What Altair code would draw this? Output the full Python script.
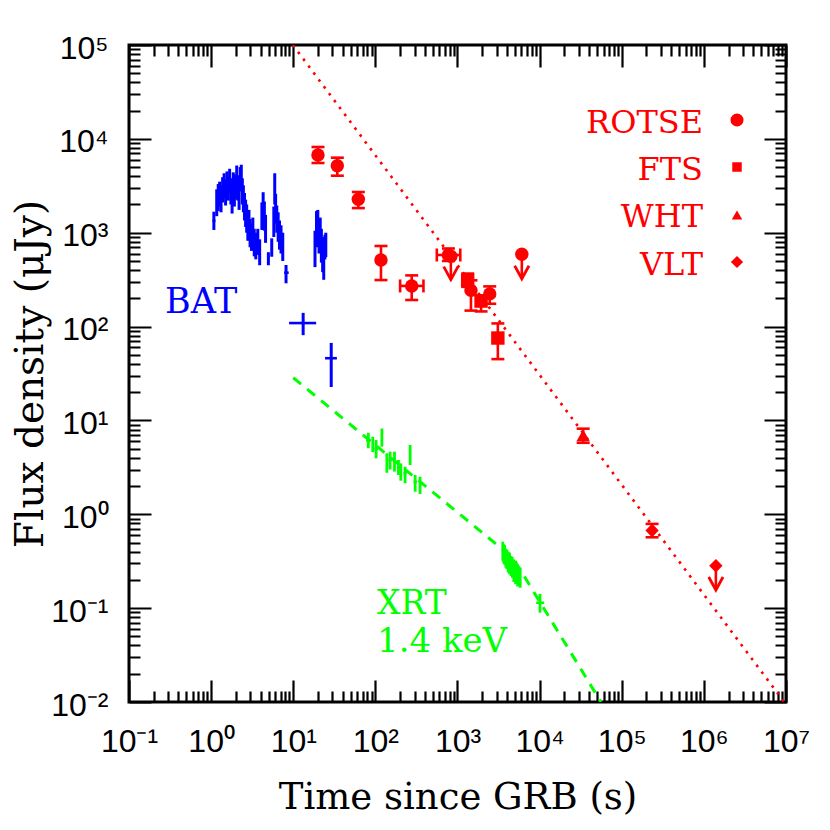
import altair as alt
import pandas as pd

# ---------------- data ----------------
# BAT (blue)
bat_t = [1.08, 1.17, 1.22, 1.27, 1.32, 1.38, 1.44, 1.50, 1.56, 1.62, 1.68, 1.74, 1.80, 1.86, 1.92,
         1.98, 2.05, 2.12, 2.19, 2.26, 2.33, 2.40, 2.47, 2.55, 2.63, 2.71, 2.80, 2.89, 2.98, 3.10,
         3.22, 3.35, 3.50, 3.70, 3.90, 4.15, 4.30, 4.45, 4.60, 4.98, 5.47, 5.80, 5.95, 6.10, 6.30,
         6.55, 6.80, 7.10, 7.45, 8.17, 13.2, 18.4, 19.2, 19.9, 20.6, 21.3, 22.0, 22.8, 23.5, 24.3,
         24.9, 29.0]
bat_f = [1340, 2100, 2400, 2600, 2300, 2900, 3200, 2700, 3400, 3000, 3600, 2800, 2200, 3300, 2600,
         3100, 3900, 3000, 2400, 3700, 4000, 2800, 2300, 1900, 1600, 1400, 1150, 1250, 1000, 900,
         1050, 780, 720, 800, 620, 1500, 1900, 1500, 1100, 533, 700, 1300, 2900, 1800, 1400,
         1150, 950, 850, 700, 375, 109, 700, 1100, 1250, 900, 1000, 750, 600, 500, 700,
         750, 46]
bat_lo = [1070, 1500, 1700, 1900, 1650, 2100, 2350, 1950, 2500, 2200, 2650, 2000, 1600, 2400, 1900,
          2250, 2900, 2200, 1750, 2750, 3000, 2000, 1650, 1350, 1150, 1000, 820, 880, 700, 640,
          750, 560, 520, 580, 450, 1070, 1350, 1050, 780, 450, 555, 900, 2000, 1250, 1000,
          800, 660, 600, 500, 289, 81, 430, 700, 850, 600, 650, 480, 380, 315, 520,
          550, 22.7]
bat_hi = [1675, 2900, 3300, 3500, 3200, 3900, 4300, 3700, 4500, 4000, 4800, 3800, 3000, 4400, 3500,
          4200, 5200, 4100, 3300, 5000, 5300, 3800, 3200, 2650, 2250, 2000, 1600, 1750, 1400, 1250,
          1450, 1100, 1000, 1100, 850, 2100, 2700, 2150, 1550, 620, 871, 1900, 4300, 2600, 1950,
          1650, 1350, 1200, 1000, 453, 140, 1050, 1700, 1750, 1300, 1450, 1100, 900, 750, 950,
          1000, 67]
# BAT points with visible time bins
batx_f = [1340, 533, 375, 109, 46]
batx_tlo = [1.04, 4.85, 7.75, 8.9, 24.4]
batx_thi = [1.13, 5.10, 8.80, 19.0, 34.0]

# XRT (green)
xrt_t = [82, 93, 102, 120, 138, 151, 171, 191, 204, 230, 265, 305, 350,
         3560, 3650, 3750, 3870, 4000, 4150, 4300, 4480, 4650, 4850, 5100, 5400, 5800, 10100]
xrt_f = [6.1, 5.6, 5.0, 6.6, 3.55, 3.8, 3.63, 3.16, 2.84, 2.74, 4.29, 2.22, 2.05,
         0.40, 0.38, 0.37, 0.34, 0.33, 0.31, 0.30, 0.28, 0.27, 0.25, 0.24, 0.22, 0.21, 0.114]
xrt_lo = [5.05, 4.6, 3.95, 5.25, 2.77, 3.0, 2.85, 2.62, 2.28, 2.14, 3.35, 1.74, 1.64,
          0.32, 0.30, 0.29, 0.27, 0.26, 0.24, 0.23, 0.22, 0.21, 0.19, 0.18, 0.17, 0.165, 0.0895]
xrt_hi = [7.4, 6.7, 6.2, 8.2, 4.47, 4.65, 4.65, 3.79, 3.49, 3.21, 5.47, 2.62, 2.51,
          0.51, 0.48, 0.47, 0.43, 0.42, 0.40, 0.39, 0.36, 0.35, 0.33, 0.32, 0.29, 0.27, 0.142]
xrtx_f = [6.1, 5.0, 3.8, 3.16, 2.74, 2.22, 0.114]
xrtx_tlo = [77, 97, 144, 183, 220, 292, 9080]
xrtx_thi = [87, 108, 159, 200, 241, 320, 11350]

# Optical detections (red)
opt_inst = ["ROTSE", "ROTSE", "ROTSE", "ROTSE", "ROTSE", "ROTSE", "ROTSE", "ROTSE",
            "FTS", "FTS", "FTS", "WHT", "VLT"]
opt_t = [20, 34.4, 62, 117, 277, 775, 1459, 2470, 1330, 1936, 3100, 33900, 234000]
opt_f = [6730, 5180, 2270, 512, 271, 579, 243, 223, 311, 187, 75.5, 6.93, 0.672]
opt_lo = [5530, 4050, 1830, 313, 192, 500, 148, 175, 265, 145, 45, 5.78, 0.569]
opt_hi = [8190, 6300, 2715, 722, 351, 679, 311, 268, 367, 215, 108, 8.17, 0.79]
optx_f = [271, 579]
optx_tlo = [200, 560]
optx_thi = [385, 1081]

# Optical upper limits
ul_inst = ["ROTSE", "ROTSE", "VLT"]
ul_t = [830, 6070, 1.40e6]
ul_f = [560, 590, 0.283]
ul_tip = [316, 323, 0.156]

# Power-law models
red_line_t = [9.9, 9.5e6]
red_line_f = [1e5, 0.01]
green_line_t = [10, 4740, 55800]
green_line_f = [28.5, 0.343, 0.01]

INST = ["ROTSE", "FTS", "WHT", "VLT"]
SHAPES = ["circle", "square", "triangle-up", "diamond"]

# ---------------- axes ----------------
W = H = 657
SERIF = "DejaVu Serif"
SANS = "Liberation Sans"
x_ticks = [m * 10.0 ** k for k in range(-1, 7) for m in range(1, 10)] + [1e7]
y_ticks = [m * 10.0 ** k for k in range(-2, 5) for m in range(1, 10)] + [1e5]
MAJOR = "abs(log(datum.value)/LN10 - round(log(datum.value)/LN10)) < 0.001"
SUP = "['\u207b\u00b2','\u207b\u00b9','\u2070','\u00b9','\u00b2','\u00b3','\u2074','\u2075','\u2076','\u2077']"
LABEL = f"{MAJOR} ? '10' + {SUP}[round(log(datum.value)/LN10) + 2] : ''"


def log_axis(orient, title, ticks, span, title_size, **kw):
    return alt.Axis(
        orient=orient, title=title, values=ticks,
        grid=True, gridColor="black", gridOpacity=1, gridWidth=2.2,
        gridDash={"condition": {"test": MAJOR, "value": [22, span - 44, 22, 4000]},
                  "value": [11, span - 22, 11, 4000]},
        ticks=False, tickSize=0, domain=False,
        labelExpr=LABEL, labelFont=SANS, labelFontSize=32, labelColor="black",
        labelOverlap=False, labelFlush=False,
        titleFont=SERIF, titleFontSize=title_size, titleFontWeight="normal", titleColor="black",
        **kw)


XAX = log_axis("bottom", "Time since GRB (s)", x_ticks, H, 37, labelPadding=24,
               titleX=W / 2, titleY=95, titleBaseline="middle", titleAlign="center")
YAX = log_axis("left", "Flux density (\u03bcJy)", y_ticks, W, 39, labelPadding=21, labelOffset=3,
               titleX=-99, titleY=H / 2, titleAngle=270, titleBaseline="middle", titleAlign="center")
XS = alt.Scale(type="log", domain=[0.1, 1e7], nice=False)
YS = alt.Scale(type="log", domain=[0.01, 1e5], nice=False)


def X(f):
    return alt.X(f, type="quantitative", scale=XS, axis=XAX)


def Y(f):
    return alt.Y(f, type="quantitative", scale=YS, axis=YAX)


# ---------------- frames ----------------
bat = pd.DataFrame({"t": bat_t, "f": bat_f, "lo": bat_lo, "hi": bat_hi})
batx = pd.DataFrame({"f": batx_f, "tlo": batx_tlo, "thi": batx_thi})
xrt = pd.DataFrame({"t": xrt_t, "f": xrt_f, "lo": xrt_lo, "hi": xrt_hi})
xrtx = pd.DataFrame({"f": xrtx_f, "tlo": xrtx_tlo, "thi": xrtx_thi})
opt = pd.DataFrame({"inst": opt_inst, "t": opt_t, "f": opt_f, "lo": opt_lo, "hi": opt_hi})
optx = pd.DataFrame({"f": optx_f, "tlo": optx_tlo, "thi": optx_thi})
ul = pd.DataFrame({"inst": ul_inst, "t": ul_t, "f": ul_f, "tip": ul_tip})
redl = pd.DataFrame({"t": red_line_t, "f": red_line_f})
grnl = pd.DataFrame({"t": green_line_t, "f": green_line_f})
dummy = pd.DataFrame({"d": [0]})

shape_enc = alt.Shape("inst:N", scale=alt.Scale(domain=INST, range=SHAPES), legend=None)

layers = []
# model lines
layers.append(alt.Chart(redl).mark_line(color="red", strokeWidth=2.6, strokeDash=[2.6, 6], clip=True)
              .encode(x=X("t"), y=Y("f")))
layers.append(alt.Chart(grnl).mark_line(color="#00ff00", strokeWidth=3, strokeDash=[10, 8], clip=True)
              .encode(x=X("t"), y=Y("f")))
# BAT
layers.append(alt.Chart(bat).mark_rule(color="blue", strokeWidth=3).encode(x=X("t"), y=Y("lo"), y2="hi"))
layers.append(alt.Chart(batx).mark_rule(color="blue", strokeWidth=2.6).encode(x=X("tlo"), x2="thi", y=Y("f")))
# XRT
layers.append(alt.Chart(xrt).mark_rule(color="#00ff00", strokeWidth=2.8).encode(x=X("t"), y=Y("lo"), y2="hi"))
layers.append(alt.Chart(xrtx).mark_rule(color="#00ff00", strokeWidth=2.6).encode(x=X("tlo"), x2="thi", y=Y("f")))
# optical error bars
layers.append(alt.Chart(opt).mark_rule(color="red", strokeWidth=2.6).encode(x=X("t"), y=Y("lo"), y2="hi"))
for fld in ["lo", "hi"]:
    layers.append(alt.Chart(opt).mark_tick(color="red", orient="horizontal", size=13, thickness=2.6, opacity=1)
                  .encode(x=X("t"), y=Y(fld)))
layers.append(alt.Chart(optx).mark_rule(color="red", strokeWidth=2.6).encode(x=X("tlo"), x2="thi", y=Y("f")))
for fld in ["tlo", "thi"]:
    layers.append(alt.Chart(optx).mark_tick(color="red", orient="vertical", size=13, thickness=2.6, opacity=1)
                  .encode(x=X(fld), y=Y("f")))
# upper limits
layers.append(alt.Chart(ul).mark_rule(color="red", strokeWidth=2.6).encode(x=X("t"), y=Y("f"), y2="tip"))
layers.append(alt.Chart(ul).mark_point(shape="M -0.55 -1 L 0 0 L 0.55 -1", size=676, color="red",
                                       strokeWidth=2.8, opacity=1, filled=False)
              .encode(x=X("t"), y=Y("tip")))
layers.append(alt.Chart(ul).mark_point(filled=True, size=180, color="red", opacity=1)
              .encode(x=X("t"), y=Y("f"), shape=shape_enc))
# optical detections
layers.append(alt.Chart(opt).mark_point(filled=True, size=180, color="red", opacity=1)
              .encode(x=X("t"), y=Y("f"), shape=shape_enc))


def label(text, x, y, color, align="left", size=34):
    return alt.Chart(dummy).mark_text(text=text, align=align, baseline="alphabetic", font=SERIF,
                                      fontSize=size, color=color).encode(x=alt.value(x), y=alt.value(y))


def legsym(shape, x, y, size):
    return alt.Chart(dummy).mark_point(shape=shape, filled=True, size=size, color="red", opacity=1) \
        .encode(x=alt.value(x), y=alt.value(y))


layers += [
    label("BAT", 36, 268, "blue", size=35),
    label("XRT", 248, 569, "#00ff00", size=33),
    label("1.4 keV", 248, 607, "#00ff00", size=34),
    label("ROTSE", 574, 88, "red", "right", 32),
    label("FTS", 574, 135, "red", "right", 32),
    label("WHT", 574, 182, "red", "right", 32),
    label("VLT", 574, 230, "red", "right", 32),
    legsym("circle", 608, 75, 170),
    legsym("square", 608, 122, 90),
    legsym("triangle-up", 608, 170, 110),
    legsym("diamond", 608, 217, 150),
]

chart = alt.layer(*layers).properties(
    width=W, height=H,
    autosize=alt.AutoSizeParams(type="none"),
    padding={"left": 121, "top": 37, "right": 30, "bottom": 115},
).configure_view(stroke="black", strokeWidth=3)

chart.save("out.html", embed_options={"renderer": "svg", "actions": False})
